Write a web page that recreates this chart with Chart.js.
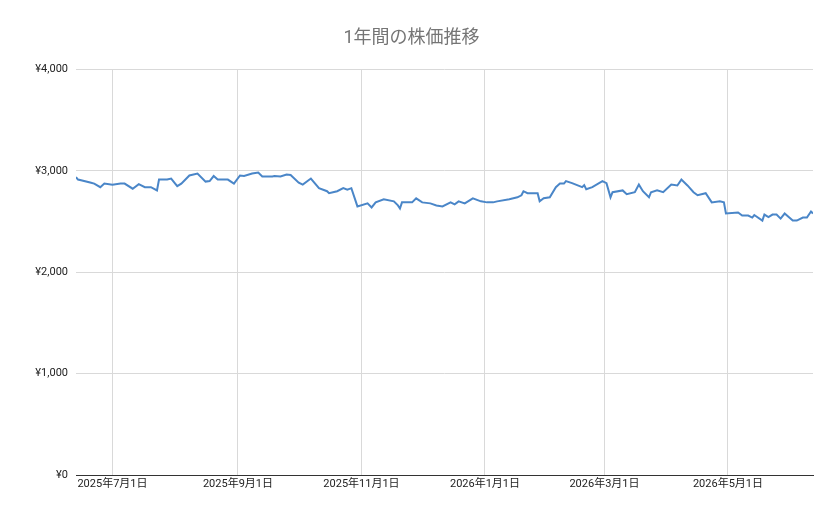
<!DOCTYPE html>
<html><head><meta charset="utf-8">
<script src="https://cdn.jsdelivr.net/npm/chart.js@4/dist/chart.umd.min.js"></script>
<style>html,body{margin:0;padding:0;background:#fff}#wrap{width:839px;height:519px}</style>
</head><body><div id="wrap"><canvas id="c"></canvas></div>
<script>
// days since 2025-06-13
const dayOffsets = [0,1,3,7,9,12,14,18,22,24,28,31,34,37,40,41,45,47,50,52,56,60,64,66,68,70,75,78,81,83,87,90,92,97,98,101,104,106,110,112,116,120,124,125,129,132,134,136,139,144,146,148,152,157,159,160,161,166,168,171,175,178,181,185,187,189,192,196,200,203,206,208,214,218,220,221,223,228,229,231,234,237,239,241,242,245,250,251,252,255,260,262,264,265,270,272,276,278,280,283,284,287,290,294,297,299,302,305,307,311,314,318,320,321,327,329,332,334,335,339,340,342,344,346,348,350,354,356,359,361,363,364];
const prices = [2940,2915,2905,2886,2875,2840,2875,2865,2875,2875,2825,2870,2840,2840,2808,2915,2915,2925,2850,2875,2955,2975,2895,2900,2950,2915,2915,2875,2955,2950,2975,2985,2945,2945,2950,2945,2965,2960,2885,2865,2925,2830,2800,2780,2800,2830,2815,2830,2650,2680,2640,2690,2720,2700,2660,2630,2690,2690,2730,2690,2680,2660,2650,2690,2670,2700,2680,2730,2700,2690,2690,2700,2720,2740,2760,2800,2780,2780,2700,2730,2740,2840,2875,2875,2900,2880,2840,2860,2820,2840,2900,2880,2740,2790,2808,2770,2790,2865,2800,2740,2790,2808,2790,2865,2857,2915,2857,2790,2760,2780,2690,2700,2690,2580,2590,2560,2560,2540,2565,2510,2570,2545,2570,2570,2530,2580,2510,2510,2540,2540,2600,2580];
const tickDays = [18,80,141,202,261,322];
const tickLabels = ['2025年7月1日','2025年9月1日','2025年11月1日','2026年1月1日','2026年3月1日','2026年5月1日'];
const yTicks = [0,1000,2000,3000,4000];
const titleText = '1年間の株価推移';

const font = 'Roboto, "Noto Sans CJK JP", Arial, sans-serif';
new Chart(document.getElementById('c'), {
  type: 'line',
  data: { datasets: [{ data: dayOffsets.map((d,i)=>({x:d,y:prices[i]})), borderColor:'#4a86c8', borderWidth:2, pointRadius:0, tension:0 }] },
  options: {
    responsive:true, maintainAspectRatio:false, animation:false,
    layout:{padding:{left:10,right:26,top:0,bottom:0}},
    plugins:{ legend:{display:false}, tooltip:{enabled:false},
      title:{display:true,text:titleText,color:'#757575',font:{family:font,size:18,weight:'normal'},padding:{top:28,bottom:20}} },
    scales:{
      x:{ type:'linear', min:0, max:364,
        afterBuildTicks:s=>{s.ticks=tickDays.map(v=>({value:v}));},
        afterFit:s=>{s.height=44;},
        ticks:{ autoSkip:false, maxRotation:0, color:'#222', font:{family:font,size:11}, callback:(v)=>tickLabels[tickDays.indexOf(v)] },
        grid:{color:'#d9d9d9', drawTicks:false}, border:{color:'#333'} },
      y:{ min:0, max:4000,
        afterBuildTicks:s=>{s.ticks=yTicks.map(v=>({value:v}));},
        afterFit:s=>{s.width=66;},
        ticks:{ color:'#222', font:{family:font,size:11}, padding:8, callback:v=>'¥'+v.toLocaleString('en-US') },
        grid:{color:'#d9d9d9', drawTicks:false}, border:{display:false} }
    }
  }
});
</script></body></html>
